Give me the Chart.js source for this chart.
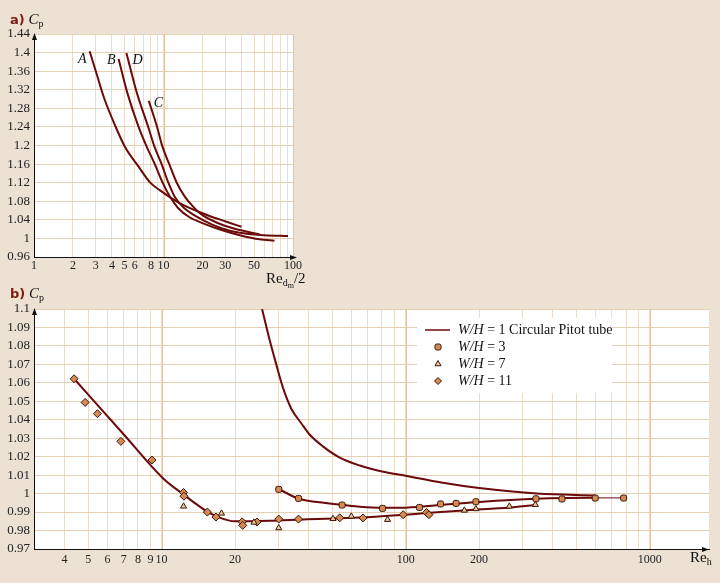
<!DOCTYPE html>
<html>
<head>
<meta charset="utf-8">
<script src="https://cdn.jsdelivr.net/npm/chart.js@4.4.0/dist/chart.umd.min.js"></script>
<style>
  html, body { margin: 0; padding: 0; background: #ede1d4; }
  body { width: 720px; height: 583px; position: relative; overflow: hidden; }
  canvas { position: absolute; left: 0; }
  .lbl { position: absolute; font-family: "Liberation Serif", serif; font-size: 15px; color: #111; line-height: 1; white-space: nowrap; }
  .lbl b { font-family: "DejaVu Sans", sans-serif; font-size: 13px; color: #7d1a12; }
  .lbl sub { font-size: 10px; vertical-align: -3px; }
  .lbl sub sub { font-size: 8px; vertical-align: -2px; }
</style>
</head>
<body>
<canvas id="top" width="310" height="295" style="top:0"></canvas>
<canvas id="bottom" width="720" height="293" style="top:290px"></canvas>
<div class="lbl" style="left:10px;top:12px"><b>a)</b> <i>C</i><sub>p</sub></div>
<div class="lbl" style="left:266px;top:271px">Re<sub>d<sub>m</sub></sub>/2</div>
<div class="lbl" style="left:10px;top:286px"><b>b)</b> <i>C</i><sub>p</sub></div>
<div class="lbl" style="left:690px;top:550px">Re<sub>h</sub></div>
<script>
// --- (a) Cp against Re_dm/2, curves A-D ---
const topXTicks = [1, 2, 3, 4, 5, 6, 7, 8, 9, 10, 20, 30, 40, 50, 60, 70, 80, 90, 100];
const topXLabels = [1, 2, 3, 4, 5, 6, 8, 10, 20, 30, 50, 100];
const topYTicks = [0.96, 1, 1.04, 1.08, 1.12, 1.16, 1.2, 1.24, 1.28, 1.32, 1.36, 1.4, 1.44];
const curveNames = ['A', 'B', 'C', 'D'];
const curveA = [[2.69, 1.403], [3.03, 1.356], [3.5, 1.30], [4.2, 1.245], [5.02, 1.198], [6.4, 1.155], [7.9, 1.12], [9.35, 1.104], [13.3, 1.076], [21.4, 1.051], [30.6, 1.036], [40, 1.025]];
const curveB = [[4.5, 1.386], [5.3, 1.31], [6.4, 1.241], [7.4, 1.198], [8.5, 1.162], [9.8, 1.121], [11.2, 1.09], [13, 1.065], [16, 1.045], [20, 1.033], [28, 1.018], [38.8, 1.007], [55, 0.998], [72, 0.995]];
const curveC = [[7.7, 1.296], [8.9, 1.241], [9.8, 1.198], [11, 1.162], [12.6, 1.121], [14.6, 1.09], [17, 1.068], [20, 1.05], [28, 1.03], [38.8, 1.018], [55, 1.009]];
const curveD = [[5.17, 1.399], [6.2, 1.315], [7.6, 1.241], [8.5, 1.198], [9.6, 1.162], [10.9, 1.12], [12.3, 1.088], [14.5, 1.065], [20, 1.04], [28, 1.022], [38.8, 1.012], [60, 1.007], [91.5, 1.005]];

// --- (b) Cp against Re_h for several W/H ---
const botXTicks = [3, 4, 5, 6, 7, 8, 9, 10, 20, 30, 40, 50, 60, 70, 80, 90, 100, 200, 300, 400, 500, 600, 700, 800, 900, 1000];
const botXLabels = [4, 5, 6, 7, 8, 9, 10, 20, 100, 200, 1000];
const botYTicks = [0.97, 0.98, 0.99, 1, 1.01, 1.02, 1.03, 1.04, 1.05, 1.06, 1.07, 1.08, 1.09, 1.1];
const legendLabels = ['W/H = 1 Circular Pitot tube', 'W/H = 3', 'W/H = 7', 'W/H = 11'];
const pitotCurve = [[25.8, 1.1], [27.5, 1.085], [29.5, 1.07], [31.5, 1.057], [34, 1.046], [37.4, 1.038], [40.4, 1.032], [45.8, 1.0256], [53.7, 1.0195], [64.9, 1.0152], [80, 1.012], [100, 1.0097], [140, 1.006], [200, 1.003], [345, 1.0], [600, 0.999]];
const wh3Fit = [[30.2, 1.0025], [36.5, 0.9972], [44.3, 0.9953], [54.6, 0.994], [65, 0.9929], [80, 0.9923], [100, 0.9924], [150, 0.9942], [200, 0.9955], [342, 0.9972], [600, 0.9977], [782, 0.9977]];
const wh711Fit = [[4.38, 1.0622], [7, 1.032], [10.1, 1.0085], [12.3, 0.9995], [15.4, 0.9902], [16.7, 0.9878], [20, 0.985], [27.7, 0.9853], [38, 0.986], [65, 0.987], [100, 0.9886], [172, 0.9909], [268, 0.9925], [345, 0.994]];
const wh3Points = [[30.2, 1.0023], [36.4, 0.9974], [54.9, 0.9938], [80.4, 0.992], [114, 0.9925], [139, 0.9944], [161, 0.9947], [194, 0.9956], [342, 0.9972], [437, 0.9971], [598, 0.9976], [782, 0.9976]];
const wh7Points = [[12.3, 0.9931], [17.6, 0.9893], [23.9, 0.9844], [30.2, 0.9814], [50.4, 0.9864], [59.9, 0.9877], [84.3, 0.9859], [174, 0.9909], [194, 0.9917], [266, 0.9931], [340, 0.994]];
const wh11Points = [[4.38, 1.0622], [4.86, 1.0494], [5.46, 1.0433], [6.81, 1.0283], [9.13, 1.0182], [12.3, 1.0006], [12.35, 0.9986], [15.4, 0.99], [16.7, 0.9873], [21.4, 0.9847], [21.5, 0.9828], [24.6, 0.9846], [30.2, 0.9862], [36.4, 0.9862], [53.7, 0.9869], [66.9, 0.9868], [97.7, 0.9886], [121.8, 0.9898], [124.6, 0.9886]];

const MAROON = '#6b0a0a';
const GRID = '#e6d0b4';
const GRID_MINOR = '#ecdcc9';
const GRID_MAJOR = '#e0c5a2';
const MAJOR_X = [10, 100, 1000];
const TICK_FONT = { family: '"Liberation Serif", serif', size: 12 };
const YTICK_FONT = { family: '"Liberation Serif", serif', size: 13 };
const MARK_EDGE = '#3d1608';

const toXY = arr => arr.map(([x, y]) => ({ x, y }));

function lineSet(pts, extra) {
    return Object.assign({
        data: toXY(pts), showLine: true, pointRadius: 0, borderColor: MAROON,
        borderWidth: 2, cubicInterpolationMode: 'monotone', order: 2
    }, extra || {});
}
function markSet(pts, style, radius, fill) {
    return {
        data: toXY(pts), showLine: false, pointStyle: style, pointRadius: radius,
        backgroundColor: fill, borderColor: MARK_EDGE, borderWidth: 1, order: 1
    };
}

function logAxis(min, max, ticks, labels, height, pad) {
    return {
        type: 'logarithmic', min, max,
        afterBuildTicks: s => { s.ticks = ticks.map(v => ({ value: v })); },
        afterFit: s => { s.height = height; },
        ticks: { autoSkip: false, maxRotation: 0, padding: pad, color: '#222', font: TICK_FONT,
            callback: v => labels.includes(v) ? String(v) : '' },
        grid: { drawTicks: false, color: GRID_MINOR },
        border: { color: '#111', width: 1 }
    };
}
function linAxis(min, max, ticks, width) {
    return {
        type: 'linear', min, max,
        afterBuildTicks: s => { s.ticks = ticks.map(v => ({ value: v })); },
        afterFit: s => { s.width = width; },
        ticks: { autoSkip: false, padding: 4, color: '#222', font: YTICK_FONT, callback: v => String(v) },
        grid: { drawTicks: false, color: GRID },
        border: { color: '#111', width: 1 }
    };
}

// white plot area on the beige page
const plotBg = {
    id: 'plotBg',
    beforeDraw(chart) {
        const { ctx, chartArea: a } = chart;
        ctx.save();
        ctx.fillStyle = '#fff';
        ctx.fillRect(a.left, a.top, a.right - a.left, a.bottom - a.top);
        ctx.restore();
    }
};

// darker decade lines (10, 100, 1000), drawn over the plain grid
const decadeLines = {
    id: 'decadeLines',
    beforeDatasetsDraw(chart) {
        const { ctx, chartArea: a, scales } = chart;
        ctx.save();
        ctx.strokeStyle = GRID_MAJOR; ctx.lineWidth = 1;
        MAJOR_X.forEach(v => {
            if (v <= scales.x.min || v > scales.x.max) return;
            const px = Math.round(scales.x.getPixelForValue(v)) + 0.5;
            ctx.beginPath(); ctx.moveTo(px, a.top); ctx.lineTo(px, a.bottom); ctx.stroke();
        });
        ctx.restore();
    }
};

// arrow heads on both axes
const arrows = {
    id: 'arrows',
    afterDraw(chart, args, opts) {
        const { ctx, chartArea: a } = chart;
        const lx = Math.round(a.left) + 0.5, by = Math.round(a.bottom) + 0.5;
        const tip = a.right + (opts.ext || 0);
        ctx.save();
        ctx.fillStyle = '#111'; ctx.strokeStyle = '#111'; ctx.lineWidth = 1;
        ctx.beginPath(); ctx.moveTo(a.right, by); ctx.lineTo(tip, by); ctx.stroke();
        ctx.beginPath(); ctx.moveTo(lx, a.top - 1); ctx.lineTo(lx - 2.5, a.top + 6); ctx.lineTo(lx + 2.5, a.top + 6); ctx.closePath(); ctx.fill();
        ctx.beginPath(); ctx.moveTo(tip + 1, by); ctx.lineTo(tip - 6, by - 2.5); ctx.lineTo(tip - 6, by + 2.5); ctx.closePath(); ctx.fill();
        ctx.restore();
    }
};

// A, B, C, D tags next to the start of each curve
const curveTags = {
    id: 'curveTags',
    afterDatasetsDraw(chart) {
        const { ctx } = chart;
        const offs = { A: [-3, 8, 'right'], B: [-3, 1, 'right'], C: [5, 2, 'left'], D: [6, 7, 'left'] };
        ctx.save();
        ctx.font = 'italic 14px "Liberation Serif", serif';
        ctx.fillStyle = '#111';
        ctx.textBaseline = 'middle';
        curveNames.forEach((n, i) => {
            const p = chart.getDatasetMeta(i).data[0];
            const o = offs[n];
            ctx.textAlign = o[2];
            ctx.fillText(n, p.x + o[0], p.y + o[1]);
        });
        ctx.restore();
    }
};

// legend box in the upper right of chart (b)
const legendBox = {
    id: 'legendBox',
    afterDraw(chart) {
        const { ctx } = chart;
        const rows = [40, 57, 74, 91];
        const styles = [null, 'rectRounded', 'triangle', 'rectRot'];
        const fills = [null, '#d48a52', '#f0c8a0', '#d48a52'];
        ctx.save();
        ctx.fillStyle = '#fff';
        ctx.fillRect(417, 28, 195, 75);
        ctx.strokeStyle = MAROON; ctx.lineWidth = 1.5;
        ctx.beginPath(); ctx.moveTo(425, rows[0]); ctx.lineTo(450, rows[0]); ctx.stroke();
        for (let i = 1; i < 4; i++) {
            ctx.fillStyle = fills[i]; ctx.strokeStyle = MARK_EDGE; ctx.lineWidth = 1;
            Chart.helpers.drawPoint(ctx, { pointStyle: styles[i], radius: 3.5, borderWidth: 1, rotation: 0 }, 438, rows[i]);
        }
        ctx.fillStyle = '#111';
        ctx.textBaseline = 'middle';
        legendLabels.forEach((t, i) => {
            const k = t.indexOf(' =');
            ctx.font = 'italic 14px "Liberation Serif", serif';
            ctx.fillText(t.slice(0, k), 458, rows[i]);
            const w = ctx.measureText(t.slice(0, k)).width;
            ctx.font = '14px "Liberation Serif", serif';
            ctx.fillText(t.slice(k), 458 + w, rows[i]);
        });
        ctx.restore();
    }
};

new Chart(document.getElementById('top'), {
    type: 'scatter',
    data: { datasets: [curveA, curveB, curveC, curveD].map(c => lineSet(c)) },
    options: {
        responsive: false, animation: false, events: [],
        layout: { padding: { left: 0, top: 34, right: 17, bottom: 0 } },
        plugins: { legend: { display: false }, tooltip: { enabled: false }, arrows: { ext: 3 } },
        scales: {
            x: logAxis(1, 100, topXTicks, topXLabels, 38, 2),
            y: linAxis(0.96, 1.44, topYTicks, 34)
        }
    },
    plugins: [plotBg, decadeLines, arrows, curveTags]
});

new Chart(document.getElementById('bottom'), {
    type: 'scatter',
    data: {
        datasets: [
            markSet(wh3Points, 'rectRounded', 3.5, '#d48a52'),
            markSet(wh7Points, 'triangle', 3.5, '#f0c8a0'),
            markSet(wh11Points, 'rectRot', 4, '#d48a52'),
            lineSet(pitotCurve),
            lineSet(wh3Fit, { segment: { borderWidth: c => c.p0.parsed.x >= 590 ? 1 : 2 } }),
            lineSet(wh711Fit)
        ]
    },
    options: {
        responsive: false, animation: false, events: [],
        layout: { padding: { left: 0, top: 19, right: 11, bottom: 0 } },
        plugins: { legend: { display: false }, tooltip: { enabled: false }, arrows: { ext: -1 } },
        scales: {
            x: logAxis(3, 1750, botXTicks, botXLabels, 34, 4),
            y: linAxis(0.97, 1.1, botYTicks, 34)
        }
    },
    plugins: [plotBg, decadeLines, arrows, legendBox]
});
</script>
</body>
</html>
